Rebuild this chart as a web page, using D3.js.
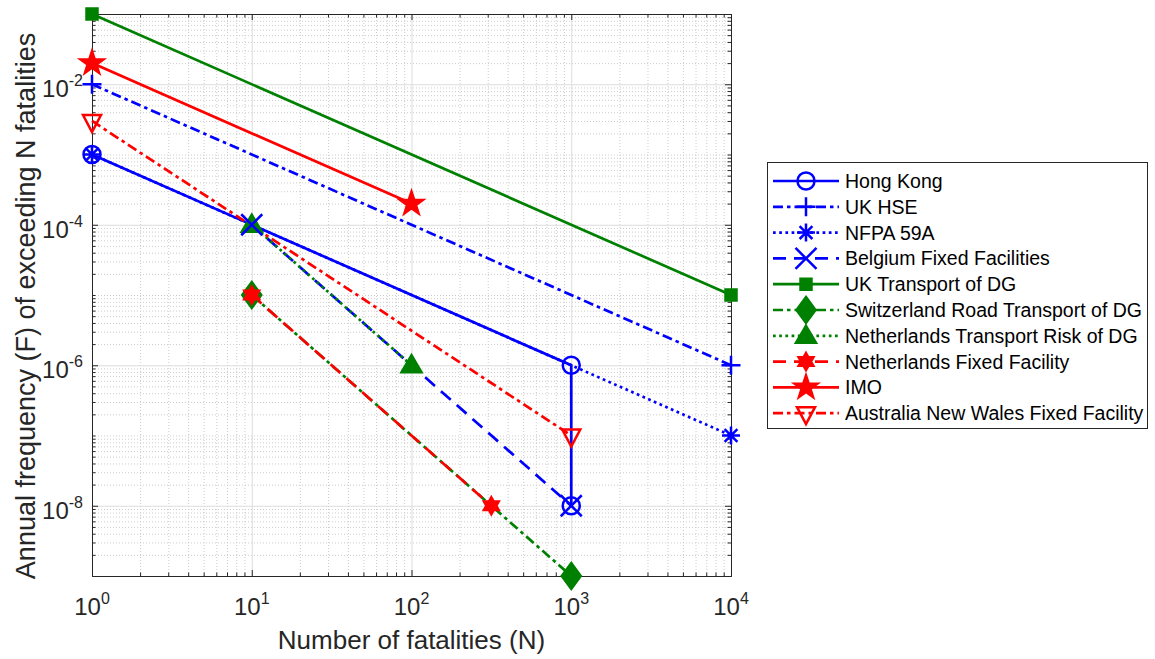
<!DOCTYPE html>
<html><head><meta charset="utf-8">
<script src="https://cdn.jsdelivr.net/npm/d3@7"></script>
<style>
body{margin:0;background:#fff}
text{font-family:Arial,"Liberation Sans",Helvetica,sans-serif}
</style>
</head><body>
<svg id="chart" width="1155" height="659"></svg>
<script>
// ---------- data (N, F) ----------
const seriesNames = ["Hong Kong","UK HSE","NFPA 59A","Belgium Fixed Facilities","UK Transport of DG",
  "Switzerland Road Transport of DG","Netherlands Transport Risk of DG","Netherlands Fixed Facility","IMO",
  "Australia New Wales Fixed Facility"];
const hongKong     = [[1,1e-3],[1000,1e-6],[1000,1e-8]];
const ukHSE        = [[1,1e-2],[1e4,1e-6]];
const nfpa59A      = [[1,1e-3],[1e4,1e-7]];
const belgium      = [[10,1e-4],[1000,1e-8]];
const ukTransport  = [[1,1e-1],[1e4,1e-5]];
const switzerland  = [[10,1e-5],[1000,1e-9]];
const nlTransport  = [[10,1e-4],[100,1e-6]];
const nlFixed      = [[10,1e-5],[316,1e-8]];
const imo          = [[1,2e-2],[100,2e-4]];
const australia    = [[1,3e-3],[1000,1e-7]];
const xTickValues = [1,10,100,1000,10000];
const xTickExps   = ["0","1","2","3","4"];
const yTickValues = [1e-8,1e-6,1e-4,1e-2];
const yTickExps   = ["-8","-6","-4","-2"];
const xLabel = "Number of fatalities (N)";
const yLabel = "Annual frequency (F) of exceeding N fatalities";

// ---------- styles ----------
const BLUE="#0000ff", GREEN="#008000", RED="#ff0000";
const DASH={solid:null, dashdot:"10,4,3.5,4", dashed:"13,8", dotted:"2.7,3.5"};
const LW=2.7;
const seriesData=[hongKong,ukHSE,nfpa59A,belgium,ukTransport,switzerland,nlTransport,nlFixed,imo,australia];
const seriesStyle=[
  {c:BLUE, d:"solid", m:"circle"},
  {c:BLUE, d:"dashdot", m:"plus"},
  {c:BLUE, d:"dotted", m:"asterisk"},
  {c:BLUE, d:"dashed", m:"x"},
  {c:GREEN,d:"solid", m:"square"},
  {c:GREEN,d:"dashdot", m:"diamond"},
  {c:GREEN,d:"dotted", m:"triangle"},
  {c:RED,  d:"dashed", m:"hexagram"},
  {c:RED,  d:"solid", m:"pentagram"},
  {c:RED,  d:"dashdot", m:"tridown"}
];
function star(n, ro, ri){
  let p=[];
  for(let i=0;i<2*n;i++){
    const r=i%2?ri:ro, a=-Math.PI/2+i*Math.PI/n;
    p.push([r*Math.cos(a), r*Math.sin(a)]);
  }
  return "M"+p.map(q=>q[0].toFixed(2)+","+q[1].toFixed(2)).join("L")+"Z";
}
const MARK={
  circle:{p:"M8.5,0A8.5,8.5 0 1,1 -8.5,0A8.5,8.5 0 1,1 8.5,0Z", fill:false},
  plus:{p:"M-9.5,0H9.5M0,-9.5V9.5", fill:false},
  asterisk:{p:"M-9,0H9M0,-9V9M-6.4,-6.4L6.4,6.4M-6.4,6.4L6.4,-6.4", fill:false},
  x:{p:"M-10.5,-10.5L10.5,10.5M-10.5,10.5L10.5,-10.5", fill:false},
  square:{p:"M-5.5,-5.5h11v11h-11Z", fill:true},
  diamond:{p:"M0,-13L9.5,0L0,13L-9.5,0Z", fill:true},
  triangle:{p:"M0,-10L10,7L-10,7Z", fill:true},
  hexagram:{p:star(6,8.5,4.9), fill:true},
  pentagram:{p:star(5,12,4.7), fill:true},
  tridown:{p:"M-9,-6H9L0,11Z", fill:false}
};

const svg=d3.select("#chart");
const L=92,R=731,T=14,B=576;
const x=d3.scaleLog().domain([1,1e4]).range([L,R]);
const y=d3.scaleLog().domain([1e-9,1e-1]).range([B,T]);

// minor values
const xMinor=[]; for(let e=0;e<4;e++) for(let k=2;k<=9;k++) xMinor.push(k*Math.pow(10,e));
const yMinor=[]; for(let e=-9;e<-1;e++) for(let k=1;k<=9;k++){const v=k*Math.pow(10,e); if(!yTickValues.some(t=>Math.abs(t-v)/v<1e-6) && !(k===1&&e===-9)) yMinor.push(v);}

// grid
const gridG=svg.append("g");
function grid(axisFn, scale, vals, size, tr, cls){
  const g=gridG.append("g").attr("transform",tr).call(axisFn(scale).tickValues(vals).tickSize(size).tickFormat(""));
  g.select(".domain").remove();
  g.selectAll("line").attr("stroke",cls==="major"?"#dcdcdc":"#cccccc").attr("stroke-width",1)
   .attr("stroke-dasharray",cls==="major"?null:"1,2");
}
grid(d3.axisBottom,x,xMinor,-(B-T),`translate(0,${B})`,"minor");
grid(d3.axisLeft,y,yMinor,-(R-L),`translate(${L},0)`,"minor");
grid(d3.axisBottom,x,xTickValues,-(B-T),`translate(0,${B})`,"major");
grid(d3.axisLeft,y,yTickValues,-(R-L),`translate(${L},0)`,"major");

// axes box + ticks
const AX="#262626";
function ticks(axisFn, scale, vals, size, tr){
  const g=svg.append("g").attr("transform",tr).call(axisFn(scale).tickValues(vals).tickSize(size).tickSizeOuter(0).tickFormat(""));
  g.select(".domain").attr("stroke",AX);
  g.selectAll("line").attr("stroke",AX);
  return g;
}
ticks(d3.axisBottom,x,xTickValues,-6,`translate(0,${B})`);
ticks(d3.axisBottom,x,xMinor,-3.5,`translate(0,${B})`);
ticks(d3.axisTop,x,xTickValues,-6,`translate(0,${T})`);
ticks(d3.axisTop,x,xMinor,-3.5,`translate(0,${T})`);
ticks(d3.axisLeft,y,yTickValues,-6,`translate(${L},0)`);
ticks(d3.axisLeft,y,yMinor,-3.5,`translate(${L},0)`);
ticks(d3.axisRight,y,yTickValues,-6,`translate(${R},0)`);
ticks(d3.axisRight,y,yMinor,-3.5,`translate(${R},0)`);

// tick labels
const TF=24, EF=16;
xTickValues.forEach((v,i)=>{
  const t=svg.append("text").attr("x",x(v)).attr("y",B+39).attr("text-anchor","middle")
    .attr("font-size",TF).attr("fill",AX);
  t.append("tspan").text("10");
  t.append("tspan").attr("dy",-11).attr("font-size",EF).text(xTickExps[i]);
});
yTickValues.forEach((v,i)=>{
  const t=svg.append("text").attr("x",L-9).attr("y",y(v)+13).attr("text-anchor","end")
    .attr("font-size",TF).attr("fill",AX);
  t.append("tspan").text("10");
  t.append("tspan").attr("dy",-11).attr("font-size",EF).text(yTickExps[i]);
});
svg.append("text").attr("x",(L+R)/2).attr("y",649).attr("text-anchor","middle")
  .attr("font-size",26).attr("fill",AX).text(xLabel);
svg.append("text").attr("transform",`translate(35,306) rotate(-90)`).attr("text-anchor","middle")
  .attr("font-size",27).attr("fill",AX).text(yLabel);

// series lines
const line=d3.line().x(d=>x(d[0])).y(d=>y(d[1]));
const plotG=svg.append("g");
seriesData.forEach((d,i)=>{
  const s=seriesStyle[i];
  plotG.append("path").attr("d",line(d)).attr("fill","none").attr("stroke",s.c)
    .attr("stroke-width",LW).attr("stroke-dasharray",DASH[s.d]);
});
// markers: filled first, then open
[true,false].forEach(filled=>{
  seriesData.forEach((d,i)=>{
    const s=seriesStyle[i], mk=MARK[s.m];
    if(mk.fill!==filled) return;
    d.forEach(p=>{
      plotG.append("path").attr("d",mk.p).attr("transform",`translate(${x(p[0])},${y(p[1])})`)
        .attr("fill",mk.fill?s.c:"none").attr("stroke",s.c).attr("stroke-width",2.5);
    });
  });
});

// legend
const lg=svg.append("g");
lg.append("rect").attr("x",767.5).attr("y",162.5).attr("width",380).attr("height",266)
  .attr("fill","#fff").attr("stroke",AX).attr("stroke-width",1);
seriesNames.forEach((n,i)=>{
  const cy=181+i*25.8, s=seriesStyle[i], mk=MARK[s.m];
  lg.append("line").attr("x1",773).attr("x2",839).attr("y1",cy).attr("y2",cy)
    .attr("stroke",s.c).attr("stroke-width",LW).attr("stroke-dasharray",DASH[s.d]);
  lg.append("path").attr("d",mk.p).attr("transform",`translate(806,${cy})`)
    .attr("fill",mk.fill?s.c:"none").attr("stroke",s.c).attr("stroke-width",2.5);
  lg.append("text").attr("x",845).attr("y",cy+7).attr("font-size",19.5).attr("fill","#000").text(n);
});
</script>
</body></html>
